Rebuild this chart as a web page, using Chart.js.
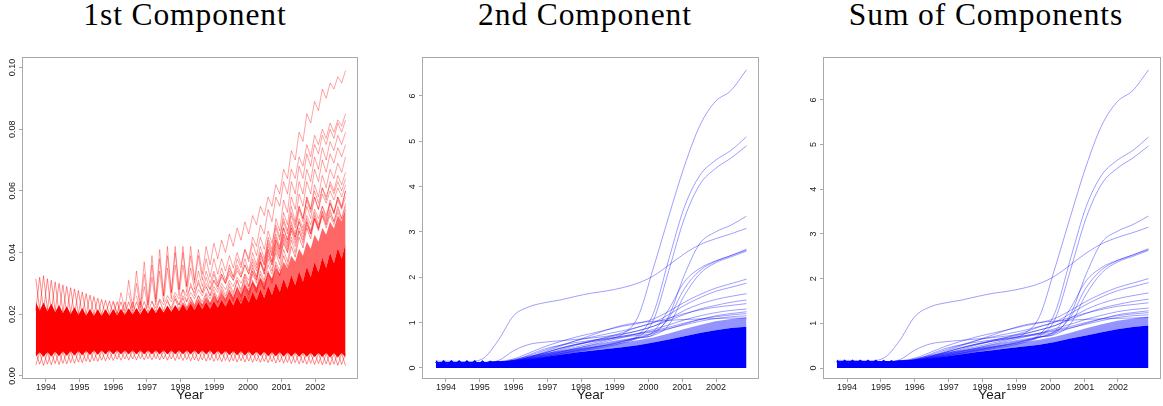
<!DOCTYPE html>
<html>
<head>
<meta charset="utf-8">
<title>Components over time</title>
<script src="https://cdn.jsdelivr.net/npm/chart.js"></script>
<style>
  html, body { margin: 0; padding: 0; background: #fff; }
  #wrap { position: relative; width: 1163px; height: 406px; overflow: hidden; background: #fff; }
  .ttl {
    position: absolute; top: -1px; width: 420px; margin-left: -210px; text-align: center;
    font-family: "Liberation Serif", "Times New Roman", serif; font-size: 31.5px; line-height: 1;
    letter-spacing: 0.9px; color: #000; white-space: nowrap;
  }
  canvas { position: absolute; top: 50px; }
</style>
</head>
<body>
<div id="wrap">
  <div class="ttl" style="left:185px">1st Component</div>
  <div class="ttl" style="left:585px">2nd Component</div>
  <div class="ttl" style="left:986px">Sum of Components</div>
  <canvas id="c1" width="380" height="356" style="left:0px"></canvas>
  <canvas id="c2" width="380" height="356" style="left:400px"></canvas>
  <canvas id="c3" width="362" height="356" style="left:801px"></canvas>
</div>
<script>
// ---- sampling grids (decimal years) ----
const FINE_START = 1993.7, FINE_STEP = 0.115;     // 81 samples, seasonal zig-zag resolution
const COARSE_START = 1993.7, COARSE_STEP = 0.46;  // 21 samples for the smooth curves
const YEAR_TICKS = [1994, 1995, 1996, 1997, 1998, 1999, 2000, 2001, 2002];
const Y_TICKS_1 = [0, 0.02, 0.04, 0.06, 0.08, 0.10];
const Y_TICKS_2 = [0, 1, 2, 3, 4, 5, 6];

// ---- 1st component: dense envelope of all series (fine grid) ----
const red_coreLo = [
  0.0062,0.0077,0.0062,0.0077,0.0063,0.0078,0.0064,0.0079,0.0065,0.0080,
  0.0066,0.0080,0.0067,0.0081,0.0068,0.0082,0.0069,0.0082,0.0070,0.0082,
  0.0070,0.0082,0.0070,0.0082,0.0070,0.0082,0.0070,0.0082,0.0070,0.0082,
  0.0070,0.0082,0.0070,0.0082,0.0070,0.0082,0.0070,0.0082,0.0070,0.0082,
  0.0070,0.0082,0.0070,0.0082,0.0070,0.0082,0.0069,0.0081,0.0069,0.0081,
  0.0068,0.0080,0.0067,0.0080,0.0066,0.0079,0.0066,0.0078,0.0065,0.0078,
  0.0064,0.0077,0.0064,0.0077,0.0063,0.0076,0.0063,0.0076,0.0062,0.0075,
  0.0062,0.0075,0.0061,0.0074,0.0061,0.0074,0.0060,0.0074,0.0060,0.0074,0.0060];
const red_coreHi = [
  0.0240,0.0212,0.0238,0.0210,0.0235,0.0207,0.0230,0.0204,0.0226,0.0201,
  0.0223,0.0198,0.0220,0.0196,0.0217,0.0195,0.0216,0.0195,0.0216,0.0196,
  0.0217,0.0197,0.0218,0.0198,0.0219,0.0199,0.0220,0.0200,0.0222,0.0202,
  0.0224,0.0204,0.0226,0.0206,0.0228,0.0208,0.0230,0.0210,0.0233,0.0212,
  0.0235,0.0214,0.0238,0.0216,0.0240,0.0218,0.0243,0.0221,0.0247,0.0224,
  0.0252,0.0228,0.0258,0.0233,0.0265,0.0238,0.0273,0.0245,0.0282,0.0252,
  0.0292,0.0262,0.0303,0.0272,0.0315,0.0283,0.0327,0.0294,0.0339,0.0305,
  0.0355,0.0320,0.0370,0.0335,0.0385,0.0350,0.0400,0.0365,0.0415,0.0380,0.0430];
// upper edge of the tangled mesh of series above the solid core
const red_hatchHi = [
  0.0240,0.0212,0.0238,0.0210,0.0235,0.0207,0.0230,0.0204,0.0226,0.0201,
  0.0223,0.0198,0.0220,0.0196,0.0217,0.0195,0.0216,0.0195,0.0216,0.0196,
  0.0217,0.0197,0.0218,0.0198,0.0219,0.0199,0.0220,0.0200,0.0222,0.0202,
  0.0224,0.0204,0.0226,0.0206,0.0228,0.0208,0.0230,0.0214,0.0240,0.0220,
  0.0245,0.0225,0.0250,0.0230,0.0256,0.0236,0.0262,0.0242,0.0268,0.0248,
  0.0276,0.0256,0.0285,0.0265,0.0295,0.0275,0.0307,0.0287,0.0320,0.0300,
  0.0335,0.0315,0.0352,0.0332,0.0370,0.0350,0.0390,0.0370,0.0412,0.0390,
  0.0435,0.0412,0.0458,0.0435,0.0480,0.0458,0.0500,0.0478,0.0520,0.0498,0.0540];
// seasonal peaks poking out of the envelope, two phases
const red_spikeHiA = [
  0.0315,0.0215,0.0325,0.0213,0.0310,0.0210,0.0300,0.0207,0.0290,0.0204,
  0.0282,0.0201,0.0272,0.0199,0.0262,0.0198,0.0252,0.0198,0.0245,0.0199,
  0.0242,0.0200,0.0240,0.0201,0.0240,0.0202,0.0240,0.0204,0.0241,0.0206,
  0.0243,0.0208,0.0245,0.0210,0.0247,0.0212,0.0250,0.0216,0.0253,0.0220,
  0.0256,0.0224,0.0260,0.0228,0.0264,0.0232,0.0268,0.0236,0.0273,0.0241,
  0.0279,0.0247,0.0286,0.0254,0.0294,0.0262,0.0303,0.0271,0.0313,0.0281,
  0.0335,0.0300,0.0360,0.0325,0.0390,0.0355,0.0420,0.0385,0.0450,0.0415,
  0.0480,0.0445,0.0510,0.0475,0.0535,0.0500,0.0560,0.0525,0.0580,0.0545,0.0600];
const red_spikeHiB = [
  0.0212,0.0320,0.0210,0.0315,0.0207,0.0305,0.0204,0.0295,0.0201,0.0286,
  0.0198,0.0277,0.0196,0.0267,0.0195,0.0257,0.0195,0.0248,0.0196,0.0243,
  0.0197,0.0241,0.0198,0.0240,0.0199,0.0240,0.0200,0.0241,0.0202,0.0243];
const red_spikeLoA = [
  0.0035,0.0076,0.0034,0.0076,0.0036,0.0077,0.0037,0.0078,0.0039,0.0079,
  0.0041,0.0079,0.0043,0.0080,0.0045,0.0081,0.0047,0.0081,0.0049,0.0081,
  0.0050,0.0081,0.0051,0.0081,0.0051,0.0081,0.0052,0.0081,0.0052,0.0081,
  0.0052,0.0081,0.0052,0.0081,0.0051,0.0081,0.0050,0.0081,0.0050,0.0081,
  0.0049,0.0081,0.0048,0.0081,0.0048,0.0081,0.0047,0.0080,0.0046,0.0080,
  0.0046,0.0079,0.0045,0.0079,0.0045,0.0078,0.0044,0.0077,0.0044,0.0077,
  0.0043,0.0076,0.0042,0.0076,0.0041,0.0075,0.0040,0.0075,0.0039,0.0074,
  0.0038,0.0074,0.0037,0.0073,0.0036,0.0073,0.0035,0.0073,0.0034,0.0073,0.0033];
const red_spikeLoB = [
  0.0077,0.0038,0.0077,0.0038,0.0078,0.0040,0.0079,0.0041,0.0080,0.0043,
  0.0080,0.0045,0.0081,0.0047,0.0082,0.0049,0.0082,0.0051,0.0082,0.0053,
  0.0082,0.0054,0.0082,0.0055,0.0082,0.0055,0.0082,0.0056,0.0082,0.0056,
  0.0082,0.0056,0.0082,0.0055,0.0082,0.0055,0.0082,0.0054,0.0082,0.0053,
  0.0082,0.0052,0.0082,0.0052,0.0082,0.0051,0.0081,0.0050,0.0081,0.0050,
  0.0080,0.0049,0.0080,0.0049,0.0079,0.0048,0.0078,0.0048,0.0078,0.0047,
  0.0077,0.0046,0.0077,0.0045,0.0076,0.0044,0.0076,0.0043,0.0075,0.0042,
  0.0075,0.0041,0.0074,0.0040,0.0074,0.0039,0.0074,0.0038,0.0074,0.0037,0.0074];

// ---- 1st component: individual series that leave the envelope (fine grid, from a start index) ----
const red01 = [0.024,0.020,0.027,0.021,0.031,0.022,0.034,0.023,0.037,0.024,
  0.039,0.025,0.041,0.026,0.042,0.027,0.042,0.028,0.042,0.029,
  0.042,0.031,0.041,0.033,0.042,0.036,0.043,0.038,0.044,0.040,
  0.046,0.042,0.048,0.044,0.050,0.046,0.052,0.049,0.055,0.052,
  0.058,0.055,0.062,0.059,0.067,0.064,0.073,0.070,0.079,0.076,
  0.085,0.082,0.089,0.086,0.093,0.090,0.095,0.093,0.097,0.095,0.099];
const red02 = [0.027,0.021,0.030,0.022,0.033,0.023,0.036,0.024,0.038,0.026,
  0.039,0.027,0.040,0.028,0.040,0.029,0.039,0.030,0.039,0.031,
  0.038,0.032,0.038,0.033,0.038,0.034,0.039,0.035,0.040,0.036,
  0.041,0.037,0.043,0.039,0.045,0.041,0.047,0.043,0.049,0.045,
  0.051,0.047,0.053,0.049,0.055,0.051,0.057,0.053,0.058,0.054,
  0.059,0.056,0.060,0.057,0.061,0.058,0.062];
const red03 = [0.026,0.021,0.029,0.022,0.032,0.023,0.034,0.024,0.035,0.025,
  0.036,0.026,0.036,0.027,0.035,0.028,0.034,0.029,0.034,0.030,
  0.034,0.030,0.035,0.031,0.035,0.032,0.036,0.033,0.038,0.034,
  0.040,0.036,0.042,0.038,0.044,0.040,0.046,0.042,0.048,0.044,
  0.049,0.045,0.050,0.046,0.051,0.047,0.052,0.048,0.053,0.049,
  0.054,0.050,0.055,0.051,0.056];
const red04 = [0.024,0.022,0.025,0.023,0.026,0.024,0.027,0.025,0.028,0.026,
  0.029,0.027,0.030,0.027,0.030,0.028,0.031,0.029,0.032,0.030,
  0.033,0.031,0.034,0.032,0.036,0.033,0.038,0.035,0.040,0.037,
  0.042,0.039,0.044,0.041,0.046,0.043,0.048,0.045,0.050,0.047,
  0.052,0.049,0.054,0.051,0.055,0.052,0.056,0.053,0.057,0.054,0.058];
const red05 = [0.024,0.022,0.026,0.023,0.028,0.024,0.030,0.026,0.031,0.027,
  0.032,0.028,0.033,0.029,0.033,0.030,0.034,0.031,0.035,0.032,
  0.036,0.033,0.037,0.034,0.039,0.036,0.041,0.037,0.043,0.039,
  0.045,0.041,0.047,0.043,0.048,0.045,0.050,0.046,0.051,0.047,
  0.052,0.048,0.052,0.049,0.053,0.050,0.054];
const red06 = [0.025,0.023,0.026,0.024,0.027,0.025,0.028,0.026,0.029,0.026,
  0.029,0.027,0.030,0.028,0.031,0.029,0.032,0.030,0.033,0.031,
  0.035,0.032,0.037,0.034,0.039,0.036,0.041,0.038,0.043,0.040,
  0.045,0.042,0.047,0.044,0.049,0.046,0.051,0.048,0.052,0.049,
  0.053,0.050,0.054,0.051,0.055];
const red07 = [0.025,0.023,0.026,0.024,0.027,0.025,0.028,0.025,0.029,0.026,
  0.030,0.027,0.031,0.028,0.032,0.029,0.034,0.031,0.037,0.033,
  0.040,0.036,0.044,0.040,0.048,0.044,0.052,0.048,0.055,0.051,
  0.058,0.054,0.060,0.056,0.061,0.058,0.062,0.059,0.063,0.060,0.064];
const red08 = [0.029,0.026,0.031,0.028,0.033,0.030,0.036,0.032,0.038,0.035,
  0.041,0.038,0.045,0.042,0.049,0.046,0.054,0.050,0.058,0.055,
  0.063,0.059,0.067,0.064,0.071,0.068,0.075,0.071,0.078,0.075,
  0.080,0.077,0.082,0.079,0.083,0.081,0.085];
const red09 = [0.027,0.024,0.028,0.025,0.029,0.026,0.031,0.027,0.033,0.029,
  0.036,0.032,0.040,0.036,0.045,0.041,0.051,0.047,0.057,0.053,
  0.063,0.059,0.068,0.064,0.072,0.068,0.075,0.072,0.078,0.075,
  0.080,0.077,0.082,0.079,0.083];
const red10 = [0.027,0.024,0.029,0.026,0.031,0.028,0.034,0.031,0.038,0.034,
  0.043,0.039,0.048,0.044,0.053,0.049,0.058,0.054,0.063,0.059,
  0.067,0.063,0.071,0.067,0.074,0.070,0.076,0.073,0.078,0.075,0.079];
const red11 = [0.027,0.024,0.030,0.027,0.033,0.030,0.037,0.033,0.041,0.037,
  0.045,0.041,0.050,0.046,0.055,0.050,0.059,0.055,0.063,0.059,
  0.067,0.063,0.070,0.066,0.072,0.069,0.074,0.071,0.075];
const red12 = [0.028,0.025,0.031,0.028,0.034,0.031,0.038,0.034,0.042,0.038,
  0.046,0.042,0.050,0.046,0.054,0.050,0.058,0.054,0.062,0.058,
  0.065,0.061,0.067,0.064,0.069,0.066,0.071];
const red13 = [0.030,0.027,0.033,0.030,0.036,0.033,0.040,0.036,0.044,0.040,
  0.048,0.044,0.051,0.048,0.055,0.051,0.058,0.054,0.061,0.057,
  0.063,0.060,0.065,0.062,0.066];
const red14 = [0.031,0.028,0.034,0.031,0.037,0.034,0.041,0.037,0.044,0.040,
  0.047,0.043,0.050,0.046,0.053,0.049,0.055,0.051,0.057,0.053,
  0.058,0.055,0.060];
// fine-grid index at which each series above begins
const redStartIndex = [20, 24, 26, 30, 34, 36, 40, 44, 46, 50, 52, 54, 56, 58];
const redSeries = [red01, red02, red03, red04, red05, red06, red07, red08, red09, red10, red11, red12, red13, red14];

// ---- 2nd component (coarse grid; teeth on the fine grid) ----
const blue_teeth = [0.175,0.10,0.175,0.10,0.175,0.10,0.175,0.10,0.175,0.10,
  0.175,0.10,0.17,0.105,0.165,0.11,0.16,0.12,0.155,0.13,0.15];
const blue_core  = [0.10,0.10,0.10,0.11,0.12,0.15,0.19,0.24,0.29,0.34,0.38,0.42,0.46,0.50,0.56,0.63,0.70,0.77,0.83,0.88,0.91];
const blue_hatch = [0.10,0.10,0.10,0.11,0.12,0.20,0.27,0.33,0.38,0.43,0.47,0.51,0.56,0.61,0.67,0.76,0.86,0.95,1.03,1.08,1.12];
const blueA = [0.15,0.15,0.14,0.20,0.60,1.15,1.35,1.44,1.50,1.58,1.65,1.70,1.77,1.87,2.03,2.27,2.52,2.72,2.85,2.96,3.08];
const blueB = [0.12,0.12,0.12,0.12,0.13,0.16,0.22,0.30,0.38,0.46,0.54,0.62,0.74,1.12,2.20,3.35,4.45,5.35,5.88,6.12,6.58];
const blueC = [0.12,0.12,0.12,0.12,0.13,0.15,0.19,0.25,0.31,0.37,0.43,0.50,0.58,0.72,1.20,2.40,3.55,4.25,4.58,4.80,5.10];
const blueD = [0.12,0.12,0.12,0.12,0.13,0.15,0.18,0.23,0.29,0.35,0.41,0.47,0.55,0.68,1.05,2.15,3.30,4.05,4.40,4.63,4.90];
const blueE = [0.12,0.12,0.12,0.12,0.13,0.15,0.20,0.27,0.34,0.41,0.48,0.54,0.60,0.66,0.74,1.15,2.05,2.75,3.00,3.15,3.35];
const blueF = [0.12,0.12,0.12,0.12,0.13,0.16,0.24,0.34,0.44,0.52,0.58,0.63,0.68,0.72,0.78,1.10,1.75,2.15,2.35,2.48,2.62];
const blueG = [0.12,0.12,0.12,0.12,0.13,0.15,0.20,0.28,0.36,0.43,0.50,0.56,0.62,0.67,0.72,0.95,1.60,2.08,2.32,2.45,2.58];
const blueH = [0.12,0.12,0.12,0.12,0.13,0.15,0.19,0.25,0.32,0.39,0.45,0.51,0.58,0.65,0.80,1.30,1.90,2.20,2.36,2.48,2.60];
const blueI = [0.12,0.12,0.12,0.12,0.14,0.20,0.33,0.47,0.58,0.68,0.76,0.84,0.92,0.98,1.08,1.25,1.45,1.62,1.76,1.86,1.96];
const blueJ = [0.12,0.12,0.12,0.12,0.13,0.17,0.27,0.39,0.50,0.60,0.68,0.75,0.82,0.90,1.00,1.18,1.38,1.55,1.69,1.78,1.87];
const blueK = [0.12,0.12,0.12,0.12,0.13,0.16,0.23,0.33,0.43,0.52,0.60,0.67,0.74,0.82,0.92,1.08,1.27,1.41,1.51,1.58,1.64];
const blueL = [0.12,0.12,0.12,0.12,0.16,0.38,0.52,0.57,0.60,0.63,0.66,0.70,0.75,0.82,0.92,1.05,1.18,1.30,1.38,1.45,1.50];
const blueM = [0.12,0.12,0.12,0.12,0.13,0.15,0.21,0.30,0.40,0.50,0.59,0.68,0.78,0.90,1.00,1.10,1.20,1.28,1.34,1.38,1.42];
const blueN = [0.12,0.12,0.12,0.12,0.13,0.15,0.20,0.27,0.35,0.43,0.51,0.59,0.67,0.76,0.85,0.95,1.06,1.15,1.22,1.27,1.30];
const blueO = [0.12,0.12,0.12,0.12,0.13,0.14,0.18,0.24,0.31,0.38,0.45,0.52,0.59,0.67,0.76,0.86,0.97,1.07,1.15,1.20,1.24];
const blueP = [0.12,0.12,0.12,0.12,0.13,0.16,0.29,0.42,0.50,0.56,0.61,0.65,0.70,0.76,0.82,0.90,0.99,1.07,1.13,1.17,1.20];
const blueQ = [0.12,0.12,0.12,0.12,0.13,0.15,0.22,0.33,0.43,0.51,0.58,0.64,0.70,0.75,0.80,0.87,0.95,1.03,1.09,1.13,1.15];
const blueR = [0.12,0.12,0.12,0.12,0.13,0.15,0.24,0.36,0.48,0.60,0.72,0.84,0.94,1.00,1.03,1.05,1.07,1.08,1.09,1.10,1.10];
const blueSeries = [blueA, blueB, blueC, blueD, blueE, blueF, blueG, blueH, blueI, blueJ, blueK, blueL, blueM, blueN, blueO, blueP, blueQ, blueR];

// ---- sum of components (coarse grid; teeth on the fine grid) ----
const sum_teeth = [0.19,0.12,0.19,0.12,0.19,0.12,0.19,0.12,0.19,0.12,
  0.19,0.12,0.185,0.125,0.18,0.13,0.175,0.14,0.17,0.15,0.17];
const sum_core  = [0.12,0.12,0.12,0.13,0.14,0.17,0.21,0.26,0.31,0.36,0.40,0.44,0.48,0.52,0.58,0.66,0.73,0.80,0.87,0.92,0.95];
const sum_hatch = [0.12,0.12,0.12,0.13,0.14,0.22,0.29,0.35,0.40,0.45,0.49,0.53,0.58,0.63,0.70,0.79,0.89,0.98,1.06,1.11,1.15];
const sumA = [0.17,0.17,0.16,0.22,0.60,1.15,1.37,1.46,1.52,1.60,1.67,1.72,1.79,1.89,2.06,2.31,2.57,2.78,2.92,3.03,3.15];
const sumB = [0.14,0.14,0.14,0.14,0.15,0.18,0.24,0.32,0.40,0.48,0.56,0.64,0.76,1.15,2.24,3.40,4.52,5.43,5.96,6.21,6.67];
const sumC = [0.14,0.14,0.14,0.14,0.15,0.17,0.21,0.27,0.33,0.39,0.45,0.52,0.60,0.75,1.24,2.45,3.61,4.32,4.65,4.87,5.17];
const sumD = [0.14,0.14,0.14,0.14,0.15,0.17,0.20,0.25,0.31,0.37,0.43,0.49,0.57,0.71,1.09,2.20,3.36,4.12,4.47,4.70,4.97];
const sumE = [0.14,0.14,0.14,0.14,0.15,0.17,0.22,0.29,0.36,0.43,0.50,0.56,0.62,0.69,0.78,1.20,2.10,2.81,3.06,3.21,3.40];
const sumF = [0.14,0.14,0.14,0.14,0.15,0.18,0.26,0.36,0.46,0.54,0.60,0.65,0.70,0.75,0.81,1.14,1.80,2.20,2.40,2.53,2.67];
const sumG = [0.14,0.14,0.14,0.14,0.15,0.17,0.22,0.30,0.38,0.45,0.52,0.58,0.64,0.70,0.75,0.99,1.65,2.13,2.37,2.50,2.63];
const sumH = [0.14,0.14,0.14,0.14,0.15,0.17,0.21,0.27,0.34,0.41,0.47,0.53,0.60,0.68,0.83,1.34,1.95,2.25,2.41,2.53,2.65];
const sumI = [0.14,0.14,0.14,0.14,0.16,0.22,0.35,0.49,0.60,0.70,0.78,0.86,0.94,1.01,1.11,1.29,1.49,1.66,1.80,1.90,2.00];
const sumJ = [0.14,0.14,0.14,0.14,0.15,0.19,0.29,0.41,0.52,0.62,0.70,0.77,0.84,0.93,1.03,1.22,1.42,1.59,1.73,1.82,1.91];
const sumK = [0.14,0.14,0.14,0.14,0.15,0.18,0.25,0.35,0.45,0.54,0.62,0.69,0.76,0.85,0.95,1.12,1.31,1.45,1.55,1.62,1.68];
const sumL = [0.14,0.14,0.14,0.14,0.18,0.40,0.54,0.59,0.62,0.65,0.68,0.72,0.77,0.85,0.95,1.09,1.22,1.34,1.42,1.49,1.54];
const sumM = [0.14,0.14,0.14,0.14,0.15,0.17,0.23,0.32,0.42,0.52,0.61,0.70,0.80,0.92,1.03,1.13,1.23,1.31,1.38,1.42,1.46];
const sumN = [0.14,0.14,0.14,0.14,0.15,0.17,0.22,0.29,0.37,0.45,0.53,0.61,0.69,0.78,0.88,0.98,1.09,1.18,1.26,1.31,1.34];
const sumO = [0.14,0.14,0.14,0.14,0.15,0.16,0.20,0.26,0.33,0.40,0.47,0.54,0.61,0.69,0.79,0.89,1.00,1.10,1.19,1.24,1.28];
const sumP = [0.14,0.14,0.14,0.14,0.15,0.18,0.31,0.44,0.52,0.58,0.63,0.67,0.72,0.78,0.85,0.93,1.02,1.10,1.17,1.21,1.24];
const sumQ = [0.14,0.14,0.14,0.14,0.15,0.17,0.24,0.35,0.45,0.53,0.60,0.66,0.72,0.77,0.83,0.90,0.98,1.06,1.13,1.17,1.19];
const sumR = [0.14,0.14,0.14,0.14,0.15,0.17,0.26,0.38,0.50,0.62,0.74,0.86,0.96,1.02,1.05,1.07,1.09,1.10,1.11,1.12,1.13];
const sumSeries = [sumA, sumB, sumC, sumD, sumE, sumF, sumG, sumH, sumI, sumJ, sumK, sumL, sumM, sumN, sumO, sumP, sumQ, sumR];

// ---- helpers ----
const FONT_SANS = '"Liberation Sans", Arial, Helvetica, sans-serif';
const AXIS_GRAY = '#a9a9a9';
const TEXT_COLOR = '#1a1a1a';

function toPoints(values, start, step, firstIndex) {
  return values.map((v, k) => ({ x: +(start + (firstIndex + k) * step).toFixed(4), y: v }));
}

function area(values, start, step, fill, color, order) {
  return { data: toPoints(values, start, step, 0), borderWidth: 0, borderColor: 'rgba(0,0,0,0)',
           backgroundColor: color, fill: fill, pointRadius: 0, order: order, tension: 0 };
}

function trace(points, color, smooth, order) {
  const ds = { data: points, borderColor: color, borderWidth: 1, pointRadius: 0, fill: false, order: order || 0 };
  if (smooth) ds.cubicInterpolationMode = 'monotone'; else ds.tension = 0;
  return ds;
}

// frame box plus rotated y tick labels
const framePlugin = {
  id: 'frame',
  afterDraw(chart) {
    const { ctx, chartArea: a } = chart;
    const y = chart.scales.y;
    const fmt = chart.options.scales.y.ticks.callback;
    ctx.save();
    ctx.strokeStyle = AXIS_GRAY;
    ctx.lineWidth = 1;
    ctx.strokeRect(Math.round(a.left) + 0.5, Math.round(a.top) + 0.5,
                   Math.round(a.right - a.left) - 1, Math.round(a.bottom - a.top) - 1);
    ctx.fillStyle = TEXT_COLOR;
    ctx.font = '9px ' + FONT_SANS;
    ctx.textAlign = 'center';
    ctx.textBaseline = 'middle';
    y.ticks.forEach(t => {
      const py = y.getPixelForValue(t.value);
      ctx.save();
      ctx.translate(a.left - 9, py);
      ctx.rotate(-Math.PI / 2);
      ctx.fillText(fmt(t.value), 0, 0);
      ctx.restore();
    });
    ctx.restore();
  }
};

function makeChart(id, datasets, yMin, yMax, yTicks, yFmt, padRight) {
  return new Chart(document.getElementById(id), {
    type: 'line',
    data: { datasets },
    options: {
      responsive: false,
      animation: false,
      events: [],
      layout: { padding: { left: 0, right: padRight, top: 7, bottom: 0 } },
      plugins: { legend: { display: false }, tooltip: { enabled: false }, filler: { propagate: false } },
      scales: {
        x: {
          type: 'linear', min: 1993.29, max: 2003.27,
          afterBuildTicks: s => { s.ticks = YEAR_TICKS.map(v => ({ value: v })); },
          afterFit: s => { s.height = 27; },
          border: { display: false },
          grid: { drawOnChartArea: false, drawTicks: true, tickLength: 3, color: AXIS_GRAY },
          ticks: { callback: v => String(v), autoSkip: false, maxRotation: 0, padding: 0,
                   color: TEXT_COLOR, font: { family: FONT_SANS, size: 9 } },
          title: { display: true, text: 'Year', color: TEXT_COLOR,
                   font: { family: FONT_SANS, size: 13.5 }, padding: { top: 0, bottom: 3 } }
        },
        y: {
          type: 'linear', min: yMin, max: yMax,
          afterBuildTicks: s => { s.ticks = yTicks.map(v => ({ value: v })); },
          afterFit: s => { s.width = 22; },
          border: { display: false },
          grid: { drawOnChartArea: false, drawTicks: true, tickLength: 3, color: AXIS_GRAY },
          ticks: { display: false, callback: yFmt }
        }
      }
    },
    plugins: [framePlugin]
  });
}

// ---- panel 1: first component ----
const RED_SOLID = 'rgb(255,0,0)';
const RED_MESH = 'rgba(255,0,0,0.6)';
const RED_SPIKE = 'rgba(255,0,0,0.45)';
const RED_LINE = 'rgba(255,0,0,0.36)';
const ds1 = [
  area(red_coreLo, FINE_START, FINE_STEP, false, RED_SOLID, 20),
  area(red_coreHi, FINE_START, FINE_STEP, 0, RED_SOLID, 19),
  area(red_hatchHi, FINE_START, FINE_STEP, 1, RED_MESH, 18),
  trace(toPoints(red_spikeHiA, FINE_START, FINE_STEP, 0), RED_SPIKE, false, 5),
  trace(toPoints(red_spikeHiB, FINE_START, FINE_STEP, 0), RED_SPIKE, false, 5),
  trace(toPoints(red_spikeLoA, FINE_START, FINE_STEP, 0), RED_SPIKE, false, 5),
  trace(toPoints(red_spikeLoB, FINE_START, FINE_STEP, 0), RED_SPIKE, false, 5)
];
redSeries.forEach((vals, j) => {
  ds1.push(trace(toPoints(vals, FINE_START, FINE_STEP, redStartIndex[j]), RED_LINE, false));
});
makeChart('c1', ds1, -0.001, 0.1034, Y_TICKS_1, v => v.toFixed(2), 22);

// ---- panel 2: second component ----
const BLUE_SOLID = 'rgb(0,0,255)';
const BLUE_LIGHT = 'rgba(0,0,255,0.42)';
const BLUE_LINE = 'rgba(0,0,255,0.38)';
const ds2 = [
  area(blue_teeth, FINE_START, FINE_STEP, 'origin', BLUE_SOLID, 20),
  area(blue_core, COARSE_START, COARSE_STEP, 'origin', BLUE_SOLID, 19),
  area(blue_hatch, COARSE_START, COARSE_STEP, 1, BLUE_LIGHT, 18)
];
blueSeries.forEach(vals => ds2.push(trace(toPoints(vals, COARSE_START, COARSE_STEP, 0), BLUE_LINE, true)));
makeChart('c2', ds2, -0.243, 6.86, Y_TICKS_2, v => String(v), 21);

// ---- panel 3: sum of components ----
const ds3 = [
  area(sum_teeth, FINE_START, FINE_STEP, 'origin', BLUE_SOLID, 20),
  area(sum_core, COARSE_START, COARSE_STEP, 'origin', BLUE_SOLID, 19),
  area(sum_hatch, COARSE_START, COARSE_STEP, 1, BLUE_LIGHT, 18)
];
sumSeries.forEach(vals => ds3.push(trace(toPoints(vals, COARSE_START, COARSE_STEP, 0), BLUE_LINE, true)));
makeChart('c3', ds3, -0.246, 6.96, Y_TICKS_2, v => String(v), 2);
</script>
</body>
</html>
